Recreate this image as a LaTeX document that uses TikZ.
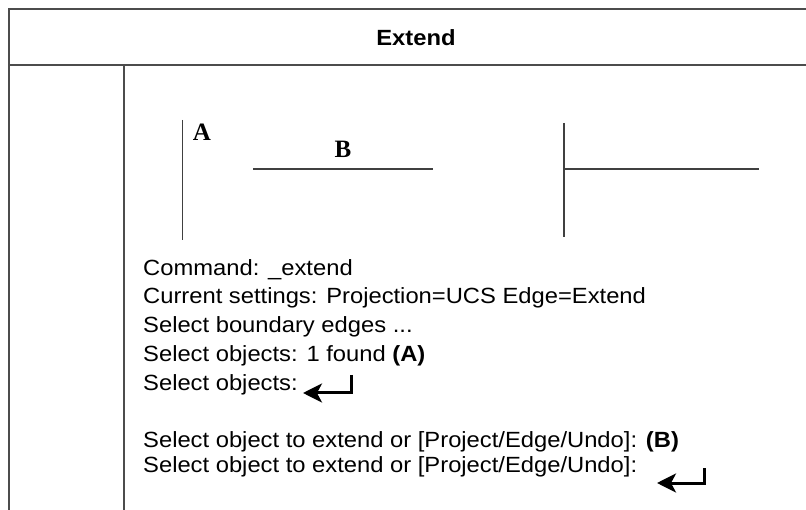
\documentclass[tikz,border=0pt]{standalone}
\usepackage{fontspec}
\setmainfont{Liberation Sans}[FakeStretch=1.08]
\newfontfamily\labelfont{Liberation Serif}
\usetikzlibrary{arrows.meta, positioning}

\tikzset{
  frameline/.style={line width=2pt, draw=black!70},
  edgeline/.style={line width=1.9pt, draw=black!75},
  cmdtext/.style={anchor=west, inner sep=0pt, font=\fontsize{22}{26}\selectfont},
  objlabel/.style={inner sep=0pt, font=\labelfont\bfseries\fontsize{25}{28}\selectfont},
  enterkey/.style={line width=3pt, -{Stealth[length=19pt, width=19pt, inset=5pt]}}
}

\begin{document}
\begin{tikzpicture}[x=1pt, y=-1pt]
  \useasboundingbox (0,0) rectangle (806,510);

  % Table frame
  \draw[frameline] (9,520) -- (9,9.5) -- (820,9.5);
  \draw[frameline] (9,65) -- (820,65);
  \draw[frameline] (124,65) -- (124,520);
  \node[font=\bfseries\fontsize{22}{26}\selectfont] (title) at (416,38) {Extend};

  % Before: boundary edge A and object B
  \coordinate (a1) at (182.5,120);
  \coordinate (a2) at (182.5,240);
  \draw[edgeline] (a1) -- (a2);
  \node[objlabel] (lblA) at (202,132) {A};
  \coordinate (b1) at (253,169);
  \coordinate (b2) at (433,169);
  \draw[edgeline] (b1) -- (b2);
  \node[objlabel] (lblB) at (343,149) {B};

  % After: B extended to A
  \coordinate (c1) at (564,123);
  \coordinate (c2) at (564,237);
  \coordinate (d2) at (759,169);
  \draw[edgeline] (c1) -- (c2);
  \draw[edgeline] (c1 |- d2) -- (d2);

  % Command line
  \node[cmdtext] (l1) at (143,270) {Command: \_extend};
  \node[cmdtext] (l2) at (143,298) {Current settings: Projection=UCS Edge=Extend};
  \node[cmdtext] (l3) at (143,327) {Select boundary edges ...};
  \node[cmdtext] (l4) at (143,356) {Select objects: 1 found \textbf{(A)}};
  \node[cmdtext] (l5) at (143,385) {Select objects:};
  \node[cmdtext] (l6) at (143,442) {Select object to extend or [Project/Edge/Undo]: \textbf{(B)}};
  \node[cmdtext] (l7) at (143,467) {Select object to extend or [Project/Edge/Undo]:};

  % Enter keys
  \coordinate (k1) at (351,375);
  \coordinate (k2) at (303,393);
  \draw[enterkey] (k1) |- (k2);
  \coordinate (k3) at (704,468);
  \coordinate (k4) at (657,483);
  \draw[enterkey] (k3) |- (k4);
\end{tikzpicture}
\end{document}
